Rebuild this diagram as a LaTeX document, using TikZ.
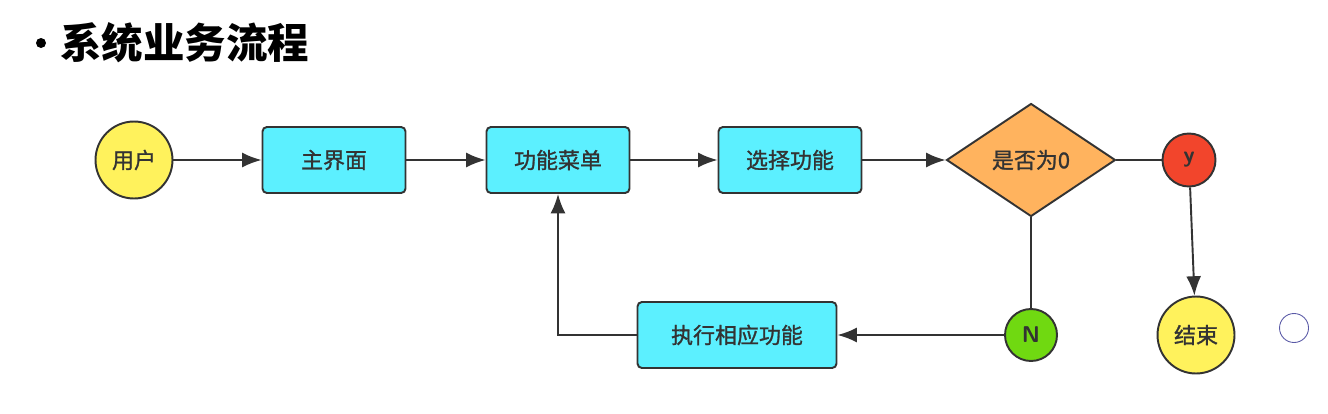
\documentclass[tikz,border=0pt]{standalone}
\usepackage{fontspec}
\newfontfamily\cjk[FakeBold=1.2]{Noto Sans CJK SC}
\newfontfamily\cjktitle{Noto Sans CJK SC}
\usetikzlibrary{shapes.geometric,arrows.meta}

\definecolor{lineGray}{HTML}{333333}
\definecolor{fillYellow}{HTML}{FFF25C}
\definecolor{fillCyan}{HTML}{5CF0FF}
\definecolor{fillOrange}{HTML}{FFB35E}
\definecolor{fillRed}{HTML}{F2452C}
\definecolor{fillGreen}{HTML}{70D911}

\tikzset{
    base/.style={draw=lineGray, line width=1.1pt, text=lineGray, font=\cjk\fontsize{12.5}{14}\selectfont, inner sep=0pt},
    procbox/.style={base, rectangle, rounded corners=2.5pt, fill=fillCyan, minimum width=2.86cm, minimum height=1.32cm},
    termcircle/.style={base, circle, fill=fillYellow, minimum size=1.54cm},
    smallcircle/.style={base, circle, minimum size=1.06cm},
    decision/.style={base, diamond, aspect=1.5, fill=fillOrange, minimum width=3.38cm, minimum height=2.26cm},
    flow/.style={draw=lineGray, line width=1.1pt, -{Latex[length=11pt,width=8.5pt]}},
    link/.style={draw=lineGray, line width=1.1pt}
}

\begin{document}
\begin{tikzpicture}[x=0.02cm, y=-0.02cm]
    % 画布大小
    \useasboundingbox (0,0) rectangle (1328,413);

    % 标题
    \fill[black] (41,43) circle (5);
    \node[anchor=west, inner sep=0pt, font=\cjktitle\bfseries\fontsize{23.6}{26}\selectfont] (title) at (60,43) {系统业务流程};

    % 上面一行
    \node[termcircle] (user) at (134,160) {用户};
    \node[procbox] (mainui) at (334,160) {主界面};
    \node[procbox] (menu) at (558,160) {功能菜单};
    \node[procbox] (choose) at (790,160) {选择功能};
    \node[decision] (iszero) at (1031,160) {是否为0};
    \node[smallcircle, fill=fillRed, font=\sffamily\bfseries\fontsize{13}{15}\selectfont] (yes) at (1189,160) {y};

    % 下面一行
    \node[termcircle] (finish) at (1196,335) {结束};
    \node[smallcircle, fill=fillGreen, font=\sffamily\bfseries\fontsize{13}{15}\selectfont, minimum size=1.04cm] (no) at (1031,335) {N};
    \node[procbox, minimum width=3.98cm] (run) at (737,335) {执行相应功能};

    % 连线
    \draw[flow] (user) -- (mainui);
    \draw[flow] (mainui) -- (menu);
    \draw[flow] (menu) -- (choose);
    \draw[flow] (choose) -- (iszero);
    \draw[link] (iszero) -- (yes);
    \draw[flow] (yes) -- (finish);
    \draw[link] (iszero.south) -- (no.north);
    \draw[flow] (no) -- (run);
    \draw[flow] (run.west) -| (menu.south);

    % 右边的小圆
    \draw[color=blue!30!gray, line width=0.5pt] (1294,328) circle (14.5);
\end{tikzpicture}
\end{document}
